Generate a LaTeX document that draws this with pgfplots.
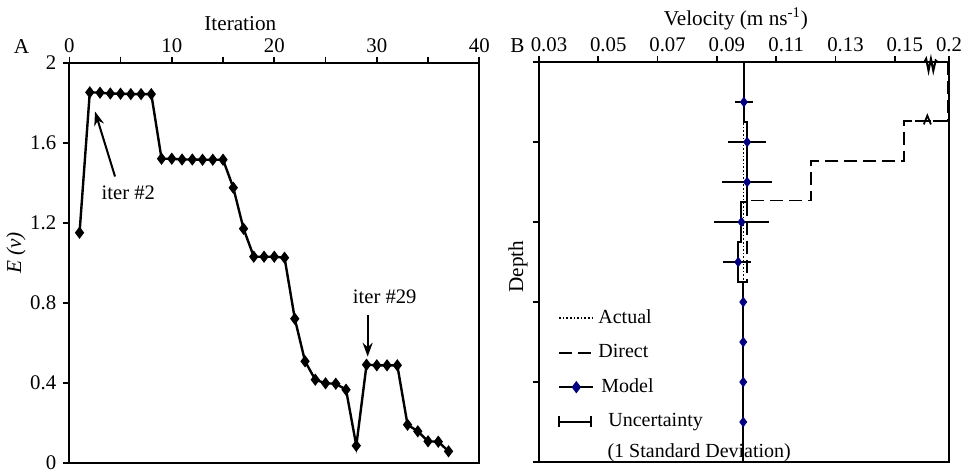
\documentclass[border=0pt]{standalone}
\usepackage{fontspec}
\setmainfont{Liberation Serif}
\usepackage{pgfplots}
\pgfplotsset{compat=1.18}
\usetikzlibrary{arrows.meta}
\definecolor{navy}{RGB}{0,0,128}

\begin{document}
\begin{tikzpicture}
\path[use as bounding box] (0,0) rectangle (483pt,-236pt);
\pgfplotsset{
  common/.style={
    scale only axis, width=205pt, height=200pt, anchor=south west,
    axis line style={line width=0.9pt},
    tick align=outside, major tick length=3pt, minor tick length=3pt,
    tick style={line width=0.8pt, black},
    ticklabel style={font=\fontsize{10.4}{12}\selectfont},
    xticklabel style={yshift=-1.5pt},
    label style={font=\fontsize{10.6}{12}\selectfont},
    xlabel style={yshift=-3pt},
    xtick pos=upper, xticklabel pos=upper,
    ytick pos=left,
    clip=false,
  }
}
% Panel A
\begin{axis}[common,
  at={(34.65pt,-231.35pt)},
  xmin=0, xmax=40, ymin=0, ymax=2,
  xtick={0,10,20,30,40}, minor xtick={5,15,25,35},
  xticklabels={0,10,20,30,40},
  ytick={0,0.4,0.8,1.2,1.6,2},
  yticklabels={0,0.4,0.8,1.2,1.6,2},
  xlabel={Iteration},
  xlabel style={xshift=-17pt},
  ylabel={\textit{E (v)}},
  ylabel style={at={(axis description cs:-0.13,0.524)}, anchor=center},
]
\addplot[black, line width=1.2pt, mark=diamond*, mark size=2.1pt] coordinates {
(1,1.15) (2,1.852) (3,1.85) (4,1.846) (5,1.845) (6,1.843) (7,1.843) (8,1.843)
(9,1.52) (10,1.52) (11,1.516) (12,1.516) (13,1.515) (14,1.515) (15,1.515)
(16,1.375) (17,1.17) (18,1.03) (19,1.03) (20,1.03) (21,1.025) (22,0.72)
(23,0.507) (24,0.415) (25,0.397) (26,0.395) (27,0.365) (28,0.085)
(29,0.49) (30,0.487) (31,0.487) (32,0.487) (33,0.19) (34,0.157)
(35,0.107) (36,0.105) (37,0.057)
};
\draw[line width=1pt, -{Stealth[length=7pt,width=5pt]}] (axis cs:4.46,1.431) -- (axis cs:2.51,1.756);
\node[font=\fontsize{10.3}{12}\selectfont] at (axis cs:5.76,1.352) {iter \#2};
\draw[line width=1pt, -{Stealth[length=7pt,width=5pt]}] (axis cs:29.11,0.739) -- (axis cs:29.11,0.530);
\node[font=\fontsize{10.3}{12}\selectfont] at (axis cs:30.77,0.830) {iter \#29};
\end{axis}
\node[font=\fontsize{10.6}{12}\selectfont] at (10.8pt,-23.3pt) {A};
\node[font=\fontsize{10.6}{12}\selectfont] at (258.7pt,-23pt) {B};

% Panel B
\begin{axis}[common,
  at={(269.5pt,-231pt)},
  xmin=0.03, xmax=0.1683, ymin=0, ymax=5, y dir=reverse,
  xtick={0.03,0.05,0.07,0.09,0.11,0.13,0.15,0.1683},
  xticklabels={0.03,0.05,0.07,0.09,0.11,0.13,0.15,\hspace*{-10pt}0.2},
  xticklabel style={xshift=5pt},
  ytick={0,1,2,3,4,5}, yticklabels={},
  xlabel={Velocity (m ns\textsuperscript{-1})},
  xlabel style={xshift=-4pt},
  ylabel={Depth},
  ylabel style={at={(axis description cs:-0.051,0.489)}, anchor=center},
  legend style={draw=none, fill=none, inner xsep=0pt, inner ysep=0pt,
    at={(axis description cs:0.046,0.392)}, anchor=north west,
    font=\fontsize{10}{12}\selectfont, row sep=5pt,
    cells={anchor=west}},
]
\addlegendimage{black, line width=0.8pt, densely dotted}
\addlegendentry{Actual}
\addlegendimage{black, line width=0.9pt, dash pattern=on 6.5pt off 3pt}
\addlegendentry{Direct}
\addlegendimage{black, line width=1pt, mark=diamond*, mark size=2.3pt, mark options={navy, solid}}
\addlegendentry{\hspace{1.5pt}Model}
\addlegendimage{legend image code/.code={
  \draw[black, line width=1pt] (0cm,0cm) -- (0.55cm,0cm);
  \draw[black, line width=1pt] (0cm,-2.8pt) -- (0cm,2.8pt) (0.55cm,-2.8pt) -- (0.55cm,2.8pt);}}
\addlegendentry{\hspace{5pt}Uncertainty}

% Direct
\addplot[forget plot, black, line width=0.9pt, dash pattern=on 6.5pt off 3pt] coordinates {
(0.1680,0) (0.1680,0.74) (0.1530,0.74) (0.1530,1.24) (0.1218,1.24) (0.1218,1.73)
(0.1001,1.73) (0.1001,2.75) (0.0990,2.75) (0.0990,5)
};
% Actual
\addplot[forget plot, black, line width=0.8pt, densely dotted] coordinates {
(0.0990,0) (0.0990,5)
};
% Model step profile
\addplot[forget plot, black, line width=1pt] coordinates {
(0.0991,0) (0.0991,0.75) (0.1002,0.75) (0.1002,1.75) (0.0983,1.75) (0.0983,2.25)
(0.0972,2.25) (0.0972,2.75) (0.0989,2.75) (0.0989,5)
};
% Model points with uncertainty
\addplot[forget plot, only marks, mark=diamond*, mark size=2.3pt, navy,
  error bars/.cd, x dir=both, x explicit,
  error bar style={black, line width=1pt},
  error mark options={black, mark size=2.8pt, line width=1pt}] coordinates {
(0.0991,0.5) +- (0.00125,0)
(0.1002,1.0) +- (0.0045,0)
(0.1002,1.5) +- (0.0065,0)
(0.0983,2.0) +- (0.0073,0)
(0.0972,2.5) += (0.0023,0) -= (0.0034,0)
};
\addplot[forget plot, only marks, mark=diamond*, mark size=2.3pt, navy] coordinates {
(0.0989,3.0) (0.0989,3.5) (0.0989,4.0) (0.0989,4.5)
};
% axis break symbols
\draw[line width=1pt] (axis cs:0.1600,0) -- (axis cs:0.1606,-0.04) -- (axis cs:0.1614,0.11)
  -- (axis cs:0.1622,-0.04) -- (axis cs:0.1630,0.11) -- (axis cs:0.1638,-0.02) -- (axis cs:0.1645,0);
\draw[line width=0.9pt] (axis cs:0.1598,0.78) -- (axis cs:0.1610,0.67) -- (axis cs:0.1622,0.78);
\draw[line width=0.9pt] (axis cs:0.1568,0.74) -- (axis cs:0.1590,0.74);
\draw[line width=0.9pt] (axis cs:0.1628,0.74) -- (axis cs:0.1665,0.74);
\node[anchor=west, font=\fontsize{10}{12}\selectfont] at (axis description cs:0.150,0.0225) {(1 Standard Deviation)};
\end{axis}
\end{tikzpicture}
\end{document}
